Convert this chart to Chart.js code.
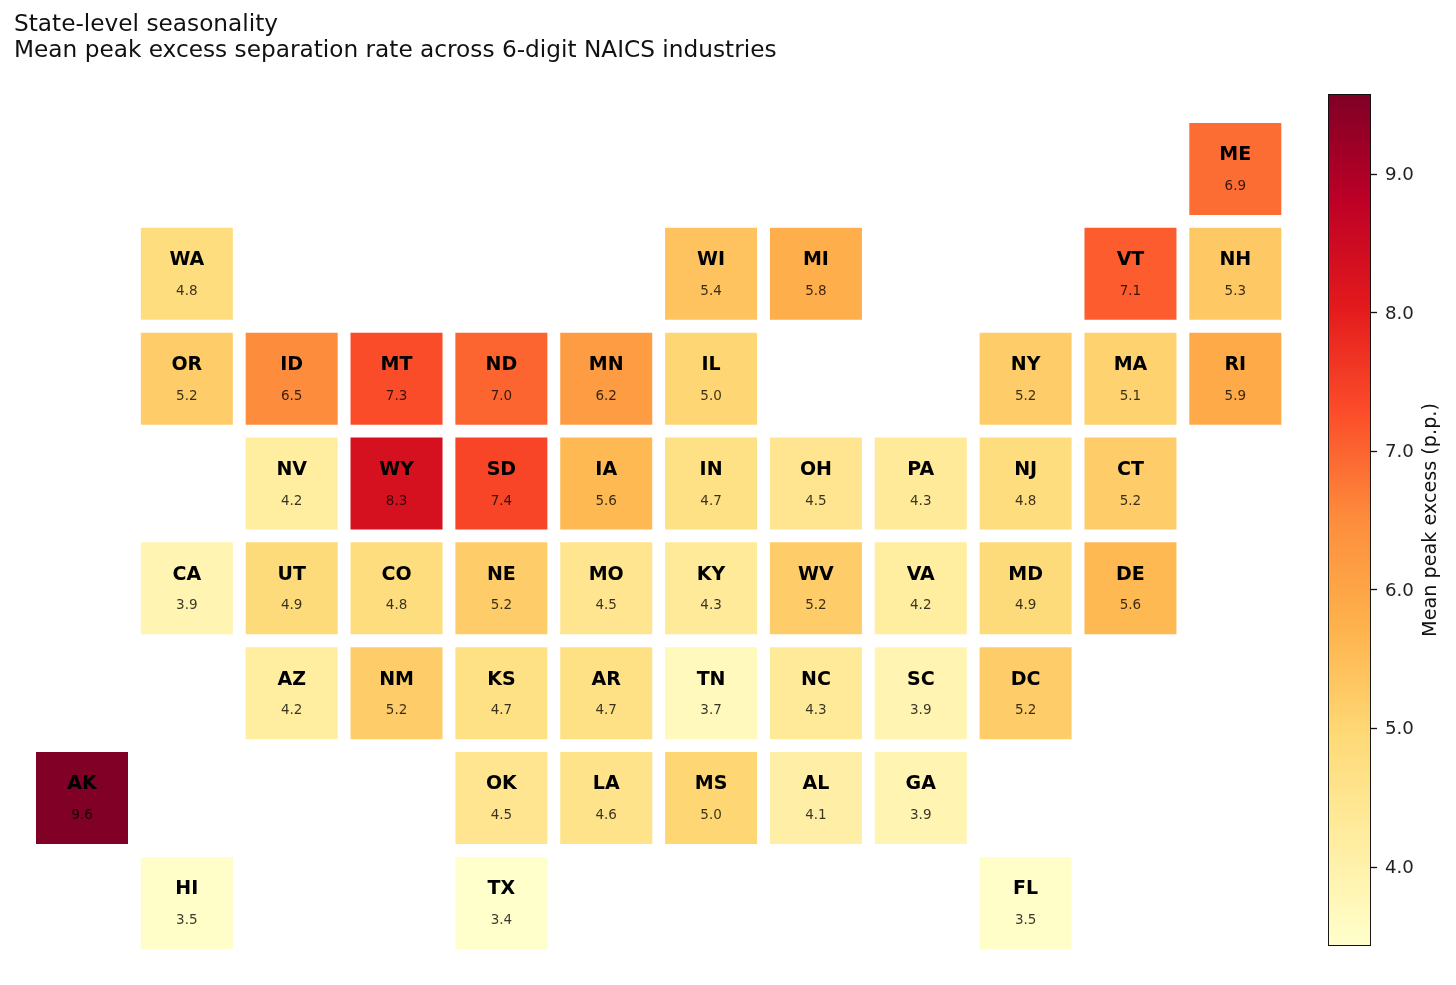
<!DOCTYPE html>
<html>
<head>
<meta charset="utf-8">
<title>State-level seasonality</title>
<script src="https://cdn.jsdelivr.net/npm/chart.js@4"></script>
<style>
  html, body { margin: 0; padding: 0; background: #fff; }
  #page { position: relative; width: 1456px; height: 985px; overflow: hidden; }
  #mapBox { position: absolute; left: 0; top: 0; width: 1300px; height: 985px; }
  #barBox { position: absolute; left: 1300px; top: 0; width: 156px; height: 985px; }
</style>
</head>
<body>
<div id="page">
  <div id="mapBox"><canvas id="map"></canvas></div>
  <div id="barBox"><canvas id="bar"></canvas></div>
</div>
<script>
const titleLines = ["State-level seasonality", "Mean peak excess separation rate across 6-digit NAICS industries"];
const barLabel = "Mean peak excess (p.p.)";

const states = ["ME",
  "WA", "WI", "MI", "VT", "NH",
  "OR", "ID", "MT", "ND", "MN", "IL", "NY", "MA", "RI",
  "NV", "WY", "SD", "IA", "IN", "OH", "PA", "NJ", "CT",
  "CA", "UT", "CO", "NE", "MO", "KY", "WV", "VA", "MD", "DE",
  "AZ", "NM", "KS", "AR", "TN", "NC", "SC", "DC",
  "AK", "OK", "LA", "MS", "AL", "GA",
  "HI", "TX", "FL"];
const cols = [11,
  1, 6, 7, 10, 11,
  1, 2, 3, 4, 5, 6, 9, 10, 11,
  2, 3, 4, 5, 6, 7, 8, 9, 10,
  1, 2, 3, 4, 5, 6, 7, 8, 9, 10,
  2, 3, 4, 5, 6, 7, 8, 9,
  0, 4, 5, 6, 7, 8,
  1, 4, 9];
const rows = [0,
  1, 1, 1, 1, 1,
  2, 2, 2, 2, 2, 2, 2, 2, 2,
  3, 3, 3, 3, 3, 3, 3, 3, 3,
  4, 4, 4, 4, 4, 4, 4, 4, 4, 4,
  5, 5, 5, 5, 5, 5, 5, 5,
  6, 6, 6, 6, 6, 6,
  7, 7, 7];
const values = [6.9,
  4.8, 5.4, 5.8, 7.1, 5.3,
  5.2, 6.5, 7.3, 7.0, 6.2, 5.0, 5.2, 5.1, 5.9,
  4.2, 8.3, 7.4, 5.6, 4.7, 4.5, 4.3, 4.8, 5.2,
  3.9, 4.9, 4.8, 5.2, 4.5, 4.3, 5.2, 4.2, 4.9, 5.6,
  4.2, 5.2, 4.7, 4.7, 3.7, 4.3, 3.9, 5.2,
  9.6, 4.5, 4.6, 5.0, 4.1, 3.9,
  3.5, 3.4, 3.5];
const barTicks = [4, 5, 6, 7, 8, 9];

// YlOrRd
const ramp = ["#ffffcc", "#ffeda0", "#fed976", "#feb24c", "#fd8d3c", "#fc4e2a", "#e31a1c", "#bd0026", "#800026"];
const vMin = 3.43, vMax = 9.58;
const FONT = "'DejaVu Sans', sans-serif";

function hexToRgb(h) {
  return [1, 3, 5].map(i => parseInt(h.substr(i, 2), 16));
}
function colorFor(v) {
  let t = (v - vMin) / (vMax - vMin);
  t = Math.max(0, Math.min(1, t)) * (ramp.length - 1);
  const i = Math.min(Math.floor(t), ramp.length - 2);
  const a = hexToRgb(ramp[i]), b = hexToRgb(ramp[i + 1]);
  const c = a.map((x, k) => Math.round(x + (b[k] - x) * (t - i)));
  return "rgb(" + c.join(",") + ")";
}

// tile labels sit on top of the points
const tileLabels = {
  id: "tileLabels",
  afterDatasetsDraw(chart) {
    const { ctx, scales } = chart;
    ctx.save();
    ctx.textAlign = "center";
    ctx.textBaseline = "middle";
    states.forEach((s, i) => {
      const x = scales.x.getPixelForValue(cols[i]);
      const y = scales.y.getPixelForValue(rows[i]);
      ctx.fillStyle = "#000";
      ctx.font = "bold 19px " + FONT;
      ctx.fillText(s, x, y - 13.5);
      ctx.fillStyle = "rgba(0,0,0,0.78)";
      ctx.font = "13.5px " + FONT;
      ctx.fillText(values[i].toFixed(1), x, y + 17.5);
    });
    ctx.restore();
  }
};

new Chart(document.getElementById("map"), {
  type: "scatter",
  data: {
    datasets: [{
      data: states.map((s, i) => ({ x: cols[i], y: rows[i] })),
      pointStyle: "rect",
      pointRadius: 46 / Math.SQRT1_2,
      pointHoverRadius: 46 / Math.SQRT1_2,
      borderWidth: 0,
      backgroundColor: values.map(colorFor)
    }]
  },
  options: {
    responsive: true,
    maintainAspectRatio: false,
    animation: false,
    layout: { autoPadding: false, padding: { left: 14, right: 0, top: 0, bottom: 0 } },
    plugins: {
      legend: { display: false },
      tooltip: { enabled: false },
      title: {
        display: true,
        text: titleLines,
        align: "start",
        color: "#111",
        font: { family: FONT, size: 23.23, weight: "normal", lineHeight: 1.12 },
        padding: { top: 12, bottom: 6 }
      }
    },
    scales: {
      x: { type: "linear", display: false, min: -0.6485, max: 11.617 },
      y: { type: "linear", display: false, reverse: true, min: -0.9437, max: 7.783 }
    }
  },
  plugins: [tileLabels]
});

const barTitle = {
  id: "barTitle",
  afterDraw(chart) {
    const { ctx, chartArea } = chart;
    ctx.save();
    ctx.translate(131, (chartArea.top + chartArea.bottom) / 2);
    ctx.rotate(-Math.PI / 2);
    ctx.textAlign = "center";
    ctx.textBaseline = "middle";
    ctx.fillStyle = "#111";
    ctx.font = "19.2px " + FONT;
    ctx.fillText(barLabel, 0, 0);
    ctx.restore();
  }
};

new Chart(document.getElementById("bar"), {
  type: "bar",
  data: {
    labels: [""],
    datasets: [{
      data: [[vMin, vMax]],
      barPercentage: 1,
      categoryPercentage: 1,
      borderSkipped: false,
      borderWidth: 1.3,
      borderColor: "#111",
      backgroundColor(c) {
        const area = c.chart.chartArea;
        if (!area) return ramp[0];
        const g = c.chart.ctx.createLinearGradient(0, area.bottom, 0, area.top);
        ramp.forEach((col, i) => g.addColorStop(i / (ramp.length - 1), col));
        return g;
      }
    }]
  },
  options: {
    responsive: true,
    maintainAspectRatio: false,
    animation: false,
    layout: { padding: { left: 28, right: 0, top: 94, bottom: 39 } },
    plugins: { legend: { display: false }, tooltip: { enabled: false } },
    scales: {
      x: { display: false },
      y: {
        position: "right",
        min: vMin,
        max: vMax,
        afterFit(scale) { scale.width = 85; },
        afterBuildTicks(scale) { scale.ticks = barTicks.map(v => ({ value: v })); },
        border: { display: false },
        grid: { drawOnChartArea: false, drawTicks: true, tickLength: 6, tickColor: "#111", tickWidth: 1.3 },
        ticks: {
          color: "#222",
          padding: 8,
          labelOffset: 1,
          font: { family: FONT, size: 18.2 },
          callback: v => v.toFixed(1)
        }
      }
    }
  },
  plugins: [barTitle]
});
</script>
</body>
</html>
